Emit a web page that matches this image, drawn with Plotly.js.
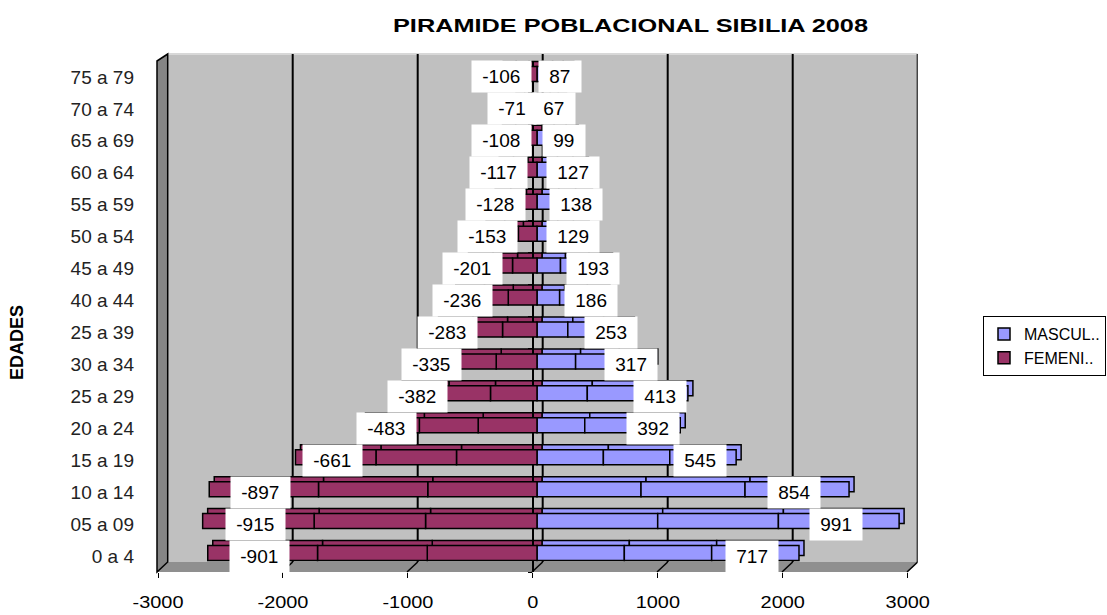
<!DOCTYPE html>
<html><head><meta charset="utf-8">
<script src="https://cdn.plot.ly/plotly-3.0.1.min.js"></script>
<style>html,body{margin:0;padding:0;background:#fff;} #chart{width:1107px;height:615px;}</style>
</head><body><div id="chart"></div>
<script>
// ---- data ----
const categories = ['0 a 4','05 a 09','10 a 14','15 a 19','20 a 24','25 a 29','30 a 34','25 a 39','40 a 44','45 a 49','50 a 54','55 a 59','60 a 64','65 a 69','70 a 74','75 a 79'];
const masculino = [717,991,854,545,392,413,317,253,186,193,129,138,127,99,67,87];
const femenino = [-901,-915,-897,-661,-483,-382,-335,-283,-236,-201,-153,-128,-117,-108,-71,-106];
const xTicks = [-3000,-2000,-1000,0,1000,2000,3000];
const seriesNames = ['MASCUL..','FEMENI..'];

// ---- geometry helpers (pixels -> paper) ----
const W = 1107, H = 615;
const px = v => v / W;
const py = v => 1 - v / H;
const FONT = 'Liberation Sans, Arial, sans-serif';
const MCOL = '#9999ff', FCOL = '#993366';
const DX = 5, DY = 5; // 3D depth offset of the bars, in pixels

const traces = [];
function addBars(xa, ya, front) {
  for (let k = 0; k < 3; k++) {
    traces.push({type:'bar', orientation:'h', x: masculino, y: categories, name: seriesNames[0],
      legendgroup:'m', showlegend: front && k === 0, marker:{color:MCOL, line:{color:'#000', width:1.5}},
      hoverinfo:'skip', xaxis:xa, yaxis:ya});
  }
  for (let k = 0; k < 3; k++) {
    traces.push({type:'bar', orientation:'h', x: femenino, y: categories, name: seriesNames[1],
      legendgroup:'f', showlegend: front && k === 0, marker:{color:FCOL, line:{color:'#000', width:1.5}},
      hoverinfo:'skip', xaxis:xa, yaxis:ya});
  }
}
addBars('x', 'y', false);    // back (depth) faces
addBars('x5', 'y5', true);   // front faces
// helper traces so that auxiliary axes exist
traces.push({type:'scatter', x:[null], y:[null], xaxis:'x2', yaxis:'y', showlegend:false, hoverinfo:'skip'});
traces.push({type:'scatter', x:[null], y:[null], xaxis:'x3', yaxis:'y3', showlegend:false, hoverinfo:'skip'});
traces.push({type:'scatter', x:[null], y:[null], xaxis:'x3', yaxis:'y4', showlegend:false, hoverinfo:'skip'});

// ---- 3D frame shapes ----
const backTop = 54, backBot = 562, frontBot = 572;
const depthUnits = 85.6; // back wall -> front plane shift in x2 units
const shapes = [];
shapes.push({type:'rect', xref:'x2', yref:'paper', x0:-3000, x1:3000, y0:py(backBot), y1:py(backTop),
  fillcolor:'#c0c0c0', line:{width:0}, layer:'below'});
shapes.push({type:'line', xref:'x2', yref:'paper', x0:-3000, x1:3000, y0:py(backTop), y1:py(backTop),
  line:{color:'#d8d8d8', width:2}, layer:'below'});
shapes.push({type:'path', xref:'paper', yref:'paper',
  path:`M ${px(157)},${py(frontBot)} L ${px(907.7)},${py(frontBot)} L ${px(917.7)},${py(backBot)} L ${px(167.7)},${py(backBot)} Z`,
  fillcolor:'#8f8f8f', line:{width:0}, layer:'below'});
shapes.push({type:'path', xref:'paper', yref:'paper',
  path:`M ${px(157)},${py(61)} L ${px(167.7)},${py(backTop)} L ${px(167.7)},${py(backBot)} L ${px(157)},${py(frontBot)} Z`,
  fillcolor:'#858585', line:{color:'#000', width:1.5}, layer:'below'});
xTicks.forEach(t => {
  if (t > -3000) {
    shapes.push({type:'line', xref:'x2', yref:'paper', x0:t, x1:t, y0:py(backBot), y1:py(backTop),
      line:{color:'#000', width:2}, layer:'below'});
    shapes.push({type:'line', xref:'x2', yref:'paper', x0:t, x1:t - depthUnits, y0:py(backBot), y1:py(frontBot),
      line:{color:'#000', width:1.5}, layer:'below'});
  }
});

// ---- data labels ----
const annotations = [];
const lab = (v, i) => ({xref:'x5', yref:'y3', x: 2.5 * v, y: i, xshift:-3,
  text:'\u00a0' + v + '\u00a0', showarrow:false, bgcolor:'#ffffff', borderpad:5,
  font:{family:FONT, size:19, color:'#000'}});
femenino.forEach((v, i) => annotations.push(lab(v, i)));
masculino.forEach((v, i) => annotations.push(lab(v, i)));
annotations.push({xref:'paper', yref:'paper', x:px(17), y:py(343), xanchor:'center', yanchor:'middle',
  text:'<b>EDADES</b>', textangle:-90, showarrow:false, font:{family:FONT, size:18, color:'#000'}});

const boundaries = categories.map((c, i) => i - 0.5).concat([categories.length - 0.5]);
const barY = [58, 569];
const barX = [171.6, 902.4];

const layout = {
  width:W, height:H, margin:{l:0, r:0, t:0, b:0},
  paper_bgcolor:'#ffffff', plot_bgcolor:'rgba(0,0,0,0)',
  barmode:'relative', bargap:0.53,
  title:{text:'<b>PIRAMIDE POBLACIONAL SIBILIA 2008</b>', x:630.5/W, xanchor:'center', y:py(25), yanchor:'middle',
    font:{family:FONT, size:19, color:'#000'}},
  showlegend:true,
  legend:{x:px(983), y:py(316), xanchor:'left', yanchor:'top', bgcolor:'#ffffff', bordercolor:'#000', borderwidth:1,
    font:{family:FONT, size:16, color:'#000'}, traceorder:'normal', tracegroupgap:0, itemwidth:30},
  xaxis:{domain:[px(barX[0] + DX), px(barX[1] + DX)], range:[-3000,3000], visible:false, anchor:'y'},
  yaxis:{domain:[py(barY[1] - DY), py(barY[0] - DY)], type:'category', categoryarray:categories, categoryorder:'array',
    range:[-0.5, 15.5], visible:false, anchor:'x'},
  xaxis5:{domain:[px(barX[0]), px(barX[1])], range:[-3000,3000], visible:false, anchor:'y5'},
  yaxis5:{domain:[py(barY[1]), py(barY[0])], type:'category', categoryarray:categories, categoryorder:'array',
    range:[-0.5, 15.5], visible:false, anchor:'x5'},
  xaxis2:{domain:[px(167.7), px(917.7)], range:[-3000,3000], visible:false, anchor:'y'},
  xaxis3:{domain:[px(158), px(907.7)], range:[-3000,3000], anchor:'free', position:py(frontBot),
    tickmode:'array', tickvals:xTicks, ticktext:xTicks.map(String), ticks:'outside', ticklen:5, tickcolor:'#000',
    showgrid:false, zeroline:false, showline:false, ticklabelstandoff:10,
    tickfont:{family:FONT, size:17, color:'#000'}},
  yaxis3:{domain:[py(572), py(61)], range:[-0.5, 15.5], anchor:'free', position:px(134),
    tickmode:'array', tickvals:categories.map((c, i) => i), ticktext:categories, ticks:'',
    showgrid:false, zeroline:false, showline:false, tickfont:{family:FONT, size:19, color:'#222'}},
  yaxis4:{overlaying:'y3', range:[-0.5, 15.5], anchor:'free', position:px(532), side:'left',
    tickmode:'array', tickvals:boundaries, ticks:'outside', ticklen:4, tickcolor:'#000', showticklabels:false,
    showline:true, linecolor:'#000', linewidth:1.5, showgrid:false, zeroline:false},
  shapes:shapes, annotations:annotations
};

Plotly.newPlot('chart', traces, layout, {staticPlot:true}).then(() => {
  const t = document.querySelector('.gtitle');
  if (t) { t.setAttribute('textLength', '475'); t.setAttribute('lengthAdjust', 'spacingAndGlyphs'); }
  document.querySelectorAll('g.x3tick text').forEach(el => {
    const L = el.getComputedTextLength();
    if (L > 0) { el.setAttribute('textLength', (L * 1.17).toFixed(1)); el.setAttribute('lengthAdjust', 'spacingAndGlyphs'); }
  });
});
</script>
</body></html>
